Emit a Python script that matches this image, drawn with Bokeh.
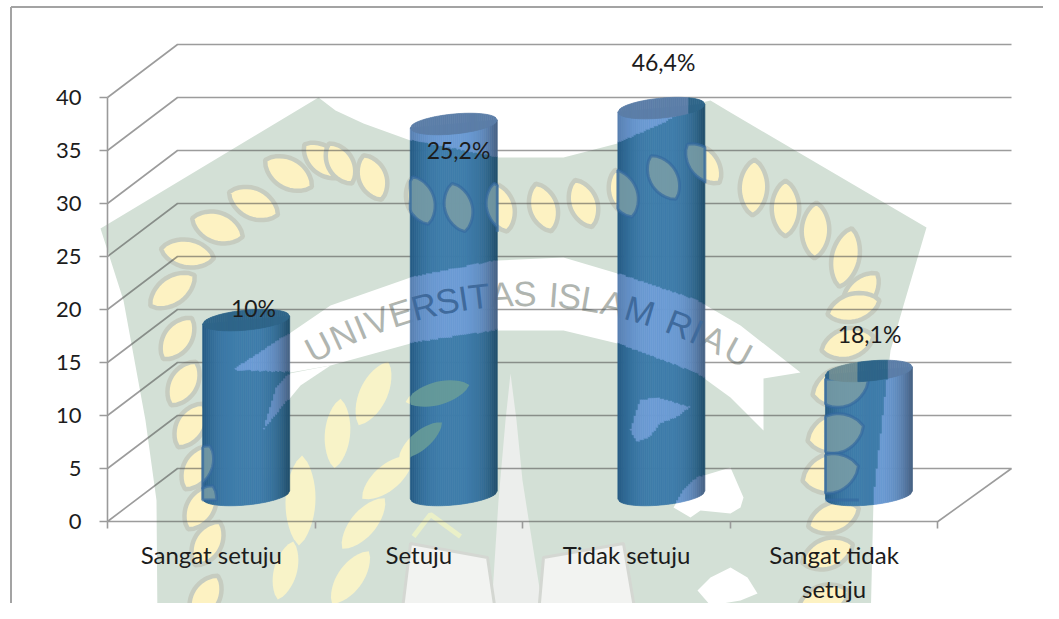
import numpy as np
from bokeh.plotting import figure
from bokeh.models import LinearAxis, FixedTicker, Range1d
from bokeh.embed import file_html
from bokeh.resources import INLINE
from bokeh.core.properties import value

# ---------- chart data ----------
categories = ["Sangat setuju", "Setuju", "Tidak setuju", "Sangat tidak\nsetuju"]
series_values = [16.5, 35.0, 36.5, 11.7]
percent_labels = ["10%", "25,2%", "46,4%", "18,1%"]
y_ticks = [0, 5, 10, 15, 20, 25, 30, 35, 40]

# ---------- geometry of the pseudo 3D chart ----------
W, H = 1043, 603
PAGE = 0
def X(px): return (np.asarray(px, float) - 107) / 207.6
def Y(py): return (521 - np.asarray(py, float)) / 10.6
def PX(x): return np.asarray(x, float) * 207.6 + 107
def PY(y): return 521 - np.asarray(y, float) * 10.6

DEPTH_X, DEPTH_Y = 70 / 207.6, 5.0
WALL_END = (1011 - 107) / 207.6
FONT = "Lato"
TXT = "#1c1c1c"

p = figure(width=W, height=H, output_backend="svg", toolbar_location=None,
           x_range=Range1d(float(X(PAGE)), float(X(PAGE + W))),
           y_range=Range1d(float(Y(PAGE + H)), float(Y(PAGE))),
           min_border=0, x_axis_type=None, y_axis_type=None,
           background_fill_color="white", border_fill_color="white")
p.outline_line_color = None
p.grid.visible = False

# ---------- watermark shapes (background picture), in pixels ----------
shield = [(318, 97), (335, 110), (363, 123), (410, 140), (497, 157), (563, 157), (617, 143), (663, 123),
          (697, 103), (710, 100), (730, 112), (926, 227), (903, 305), (890, 350), (873, 500), (870, 625),
          (157, 625), (156, 500), (145, 420), (123, 300), (100, 228)]
band = [(232, 370), (289, 333), (330, 305), (410, 277), (497, 260), (563, 257), (617, 273), (697, 300), (740, 325),
        (800, 372), (763, 378), (763, 430), (730, 397), (697, 373), (617, 343), (563, 330), (497, 330), (410, 343),
        (330, 365), (290, 372)]
spike = [(263, 430), (276, 388), (289, 373), (330, 365), (300, 385)]
clouds = [
    [(630, 430), (640, 400), (657, 397), (690, 407), (677, 417), (660, 423), (650, 437), (637, 442)],
    [(673, 507), (683, 490), (697, 477), (710, 473), (730, 467), (743, 497), (740, 507), (730, 513), (700, 510), (690, 517)],
    [(697, 590), (710, 577), (730, 567), (747, 577), (757, 593), (740, 600), (710, 605)],
]
spire = [(510, 373), (516, 420), (522, 480), (533, 550), (545, 625), (490, 625), (498, 500), (505, 420)]
book_l = [(410, 543), (487, 557), (497, 625), (400, 625)]
book_r = [(543, 557), (623, 543), (637, 625), (537, 625)]
wreath = [  # centre x, centre y, direction in degrees, length, width
    (205, 597, 60, 50, 24), (207, 543, 60, 50, 24), (200, 507, 60, 50, 24), (197, 467, 60, 50, 24),
    (190, 425, 60, 50, 24), (183, 383, 60, 50, 24), (177, 338, 55, 50, 24), (172, 290, 35, 54, 24),
    (187, 253, -10, 54, 24), (217, 227, -20, 54, 26), (253, 203, -25, 54, 26), (288, 173, -30, 54, 26),
    (323, 160, -40, 50, 24), (340, 163, -60, 46, 22), (372, 177, -68, 48, 24), (420, 200, -72, 50, 24),
    (458, 207, -75, 50, 24), (500, 207, -75, 50, 24), (543, 207, -72, 50, 24), (583, 203, -70, 50, 24),
    (623, 193, -70, 50, 24), (663, 177, -60, 50, 24), (703, 163, -50, 50, 24), (753, 187, 88, 56, 24),
    (785, 208, 90, 56, 24), (815, 230, 88, 56, 24), (845, 257, 78, 60, 24), (860, 293, 50, 52, 24),
    (853, 307, 15, 54, 24), (847, 343, 15, 54, 26), (840, 387, 15, 58, 34), (835, 433, 15, 58, 34),
    (830, 473, 15, 58, 34), (833, 517, 20, 54, 26), (827, 553, 20, 54, 26), (823, 600, 20, 54, 26),
]
plant = [
    (373, 393, 65, 70, 24), (337, 433, 85, 70, 22), (387, 477, 40, 66, 22), (363, 523, 50, 66, 22),
    (350, 577, 55, 64, 22), (300, 500, 88, 90, 26), (437, 393, 15, 66, 20), (420, 440, 40, 56, 16),
    (275, 450, 70, 60, 20), (285, 570, 75, 60, 20),
]

def lens(cx, cy, deg, length, width, n=16):
    a = np.deg2rad(deg)
    u = np.linspace(-1, 1, n)
    v = (1 - u ** 2) ** 0.75 * width / 2 * 1.15
    along = np.r_[u, u[::-1]] * length / 2
    across = np.r_[v, -v[::-1]]
    return cx + along * np.cos(a) - across * np.sin(a), cy - along * np.sin(a) - across * np.cos(a)

def poly(pts, **kw):
    arr = np.array(pts, float)
    p.patch(X(arr[:, 0]), Y(arr[:, 1]), **kw)

def inside(pts, x, y):
    arr = np.array(pts, float)
    xa, ya = arr[:, 0], arr[:, 1]
    xb, yb = np.roll(xa, 1), np.roll(ya, 1)
    hit = np.zeros_like(y, dtype=bool)
    for x1, y1, x2, y2 in zip(xa, ya, xb, yb):
        if y1 == y2:
            continue
        cond = ((y1 > y) != (y2 > y)) & (x < (x2 - x1) * (y - y1) / (y2 - y1) + x1)
        hit ^= cond
    return hit

def is_light(x, y):
    light = ~inside(shield, x, y) | inside(band, x, y) | inside(spike, x, y)
    for c in clouds:
        light |= inside(c, x, y)
    return light

poly(shield, fill_color="#d3e0d6", line_color=None)
for lf in wreath:
    lx, ly = lens(*lf)
    p.patch(X(lx), Y(ly), fill_color="#fdf2c2", line_color="#c6ccc0", line_width=4.5)
for lf in plant:
    lx, ly = lens(*lf)
    p.patch(X(lx), Y(ly), fill_color="#f8f3c8", line_color=None)
poly(band, fill_color="#ffffff", line_color=None)
poly(spike, fill_color="#ffffff", line_color=None)
for c in clouds:
    poly(c, fill_color="#ffffff", line_color=None)
poly(spire, fill_color="#eceeec", line_color=None)
for b in (book_l, book_r):
    poly(b, fill_color="#f2f3f1", line_color="#d4d7d2", line_width=3)
p.line(X([413, 430, 460]), Y([536, 514, 536]), line_color="#eaf0c8", line_width=5)

# curved lettering of the watermark, spaced by rough letter widths
word = "UNIVERSITAS ISLAM RIAU"
narrow = {"I": 0.42, " ": 0.55, "M": 1.25, "T": 0.9, "S": 0.95, "L": 0.85, "E": 0.95}
weights = np.array([narrow.get(ch, 1.05) for ch in word])
ends = np.cumsum(weights)
mids = ends - weights / 2
wx = 318 + (mids - mids[0]) / (mids[-1] - mids[0]) * (738 - 318)
wy = 293 + 52 * ((wx - 523) / 203) ** 2
wa = -np.arctan((wx - 523) * 2 * 52 / 203 ** 2)
p.text(X(wx), Y(wy), text=list(word), angle=wa, text_font=value("Liberation Sans"), text_font_size="35px",
       text_color="#b0b5b0", text_align="center", text_baseline="middle")

# ---------- 3D walls and floor, from the tick values ----------
for v in y_ticks:
    if v == 0:
        p.line([0, DEPTH_X, WALL_END, 4, 0], [0, DEPTH_Y, DEPTH_Y, 0, 0], line_color="#4a4a4a", line_alpha=0.55, line_width=1.6)
    else:
        p.line([0, DEPTH_X, WALL_END], [v, v + DEPTH_Y, v + DEPTH_Y], line_color="#4a4a4a", line_alpha=0.55, line_width=1.6)

# ---------- cylinders ----------
BASE_OFF = 2.5
CENTER_OFF = 0.668
HALF_W = 43.5 / 207.6
SEMI = 10 / 10.6
TILT = 4 / 10.6

def mix(c0, c1, f):
    return "#%02x%02x%02x" % tuple(int(round(a + (b - a) * f)) for a, b in zip(c0, c1))

LIGHT_C, LIGHT_LE, LIGHT_RE = (107, 155, 212), (88, 128, 178), (72, 100, 135)
DARK_C, DARK_LE, DARK_RE = (63, 125, 171), (38, 92, 134), (34, 80, 110)
CAP_LIGHT, CAP_DARK, CAP_LEAF = "#5b7ea8", "#2f6589", "#6d8c94"
wreath_lenses = [lens(*lf) for lf in wreath]

for i, val in enumerate(series_values):
    cx = i + CENTER_OFF
    y_base, y_top = BASE_OFF, BASE_OFF + val
    edges = np.linspace(-1, 1, 44)
    xs, ys, cols = [], [], []
    for t0, t1 in zip(edges[:-1], edges[1:]):
        tm = (t0 + t1) / 2
        f = min(1.0, abs(tm) ** 3 * 1.1)
        lc = mix(LIGHT_C, LIGHT_LE if tm < 0 else LIGHT_RE, f)
        dc = mix(DARK_C, DARK_LE if tm < 0 else DARK_RE, f)
        x0, x1 = cx + t0 * HALF_W, cx + t1 * HALF_W
        bot0 = y_base - SEMI * np.sqrt(1 - t0 ** 2) + TILT * t0
        bot1 = y_base - SEMI * np.sqrt(1 - t1 ** 2) + TILT * t1
        top = y_top + TILT * tm
        samples = np.arange(min(bot0, bot1), top, 1.5 / 10.6)
        samples = np.r_[samples, top]
        states = is_light(np.full(samples.shape, PX((x0 + x1) / 2)), PY(samples))
        start = 0
        for k in range(1, len(samples) + 1):
            if k == len(samples) or states[k] != states[start]:
                y_lo, y_hi = samples[start], samples[min(k, len(samples) - 1)]
                col = lc if states[start] else dc
                if start == 0:
                    xs.append([x0, x1, x1, x0]); ys.append([bot0, bot1, y_hi, y_hi])
                else:
                    xs.append([x0, x1, x1, x0]); ys.append([y_lo, y_lo, y_hi, y_hi])
                cols.append(col)
                start = k
    p.patches(xs, ys, fill_color=cols, line_color=cols, line_width=0.7)

    # watermark showing through: leaves clipped to the body of the cylinder
    left_px, right_px = PX(cx - HALF_W), PX(cx + HALF_W)
    top_px, bot_px = PY(y_top), PY(y_base)
    overlays = [(l, "#34699f", "#7a9ea6") for l in wreath]
    if i == 1:
        overlays += [(l, None, "#6a9d98") for l in plant]
    for lf, halo, fill in overlays:
        lx, ly = lens(*lf)
        if lx.max() < left_px + 5 or lx.min() > right_px - 5 or ly.max() < top_px + 10 or ly.min() > bot_px + 8:
            continue
        cy0 = np.clip(ly, top_px + 8, bot_px + 5)
        cx0 = np.clip(lx, left_px, right_px)
        p.patch(X(cx0), Y(cy0), fill_color=fill, fill_alpha=0.85, line_color=halo, line_width=3, line_alpha=0.7 if halo else 0)

    # lettering seen through the cylinder
    in_bar = (wx > left_px + 6) & (wx < right_px - 6)
    p.text(X(wx[in_bar]), Y(wy[in_bar]), text=[word[k] for k in np.nonzero(in_bar)[0]], angle=wa[in_bar],
           text_font=value("Liberation Sans"), text_font_size="35px", text_color="#3f6a9c",
           text_align="center", text_baseline="middle")

    # lid
    xs, ys, cols = [], [], []
    for t0, t1 in zip(edges[:-1], edges[1:]):
        tm = (t0 + t1) / 2
        x0, x1 = cx + t0 * HALF_W, cx + t1 * HALF_W
        lo0, hi0 = y_top + TILT * t0 - SEMI * np.sqrt(1 - t0 ** 2), y_top + TILT * t0 + SEMI * np.sqrt(1 - t0 ** 2)
        lo1, hi1 = y_top + TILT * t1 - SEMI * np.sqrt(1 - t1 ** 2), y_top + TILT * t1 + SEMI * np.sqrt(1 - t1 ** 2)
        mx, my = np.array([PX((x0 + x1) / 2)]), np.array([PY(y_top)])
        light = is_light(mx, my)[0]
        on_leaf = any(inside(np.c_[lx, ly], mx, my)[0] for lx, ly in wreath_lenses)
        xs.append([x0, x1, x1, x0]); ys.append([lo0, lo1, hi1, hi0])
        cols.append(CAP_LIGHT if light else (CAP_LEAF if on_leaf else CAP_DARK))
    p.patches(xs, ys, fill_color=cols, line_color=cols, line_width=0.7)

# ---------- data labels ----------
label_px = [253, 458, 663, 869]
label_py = [307, 149, 61, 333]
p.text(X(label_px), Y(label_py), text=percent_labels, text_font=value(FONT), text_font_size="23px",
       text_color=TXT, text_align="center", text_baseline="middle")

# ---------- frame of the chart object ----------
p.line(X([10.5, 10.5]), Y([6.5, 625]), line_color="#a3a3a3", line_width=2)
p.line(X([10.5, 1060]), Y([6.5, 6.5]), line_color="#a3a3a3", line_width=2)

# ---------- axes ----------
AX = "#9a9a9a"
yax = LinearAxis(fixed_location=0, ticker=FixedTicker(ticks=y_ticks), bounds=(0, 40))
yax.axis_line_color = AX; yax.axis_line_width = 1.6
yax.major_tick_line_color = AX; yax.major_tick_line_width = 1.6
yax.major_tick_in = 0; yax.major_tick_out = 8
yax.minor_tick_line_color = None
yax.major_label_standoff = 18
yax.major_label_text_font = FONT; yax.major_label_text_font_size = "22px"; yax.major_label_text_color = TXT
p.add_layout(yax, "left")

xax = LinearAxis(fixed_location=0, ticker=FixedTicker(ticks=[0, 1, 2, 3, 4]), bounds=(0, 4))
xax.axis_line_color = None
xax.major_tick_line_color = AX; xax.major_tick_line_width = 1.6
xax.major_tick_in = 0; xax.major_tick_out = 7
xax.minor_tick_line_color = None
xax.major_label_text_font_size = "0px"
xax.major_label_text_color = None
p.add_layout(xax, "below")

lab = LinearAxis(fixed_location=0, ticker=FixedTicker(ticks=[0.5, 1.5, 2.5, 3.5]))
lab.major_label_overrides = {0.5: categories[0], 1.5: categories[1], 2.5: categories[2], 3.5: categories[3]}
lab.axis_line_color = None; lab.major_tick_line_color = None; lab.minor_tick_line_color = None
lab.major_tick_in = 0; lab.major_tick_out = 0
lab.major_label_standoff = 18
lab.major_label_text_font = FONT; lab.major_label_text_font_size = "24px"; lab.major_label_text_color = TXT
p.add_layout(lab, "below")

open("out.html", "w").write(file_html(p, INLINE))
